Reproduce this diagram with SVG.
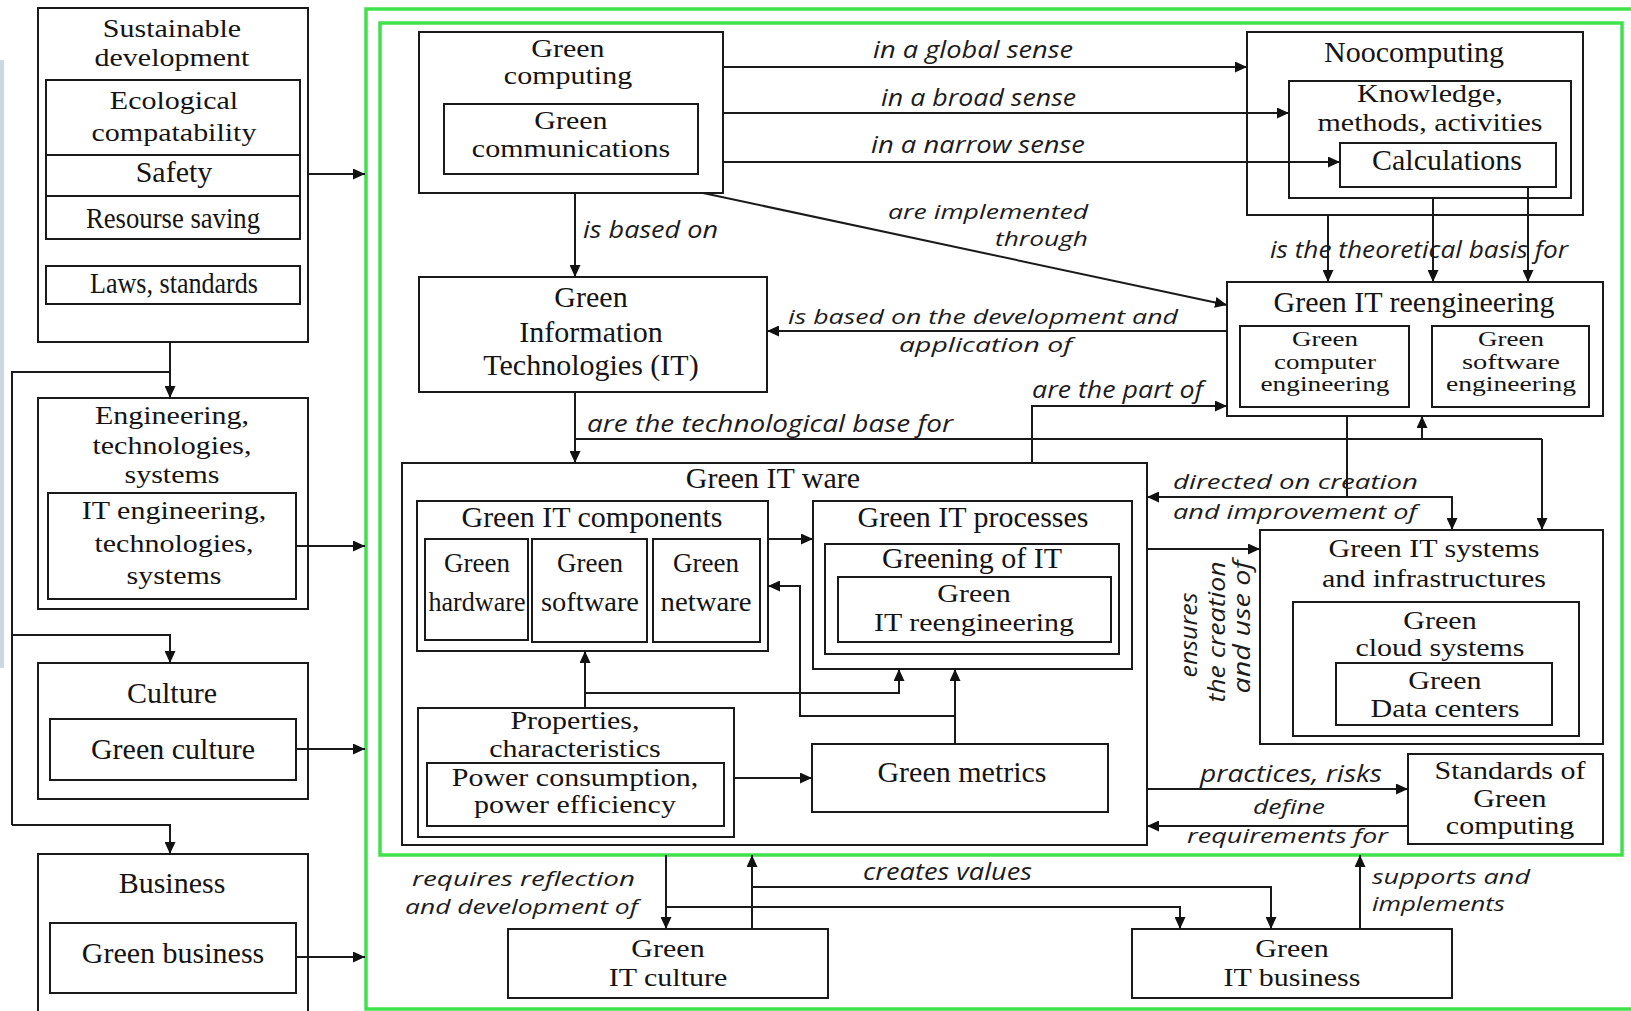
<svg xmlns="http://www.w3.org/2000/svg" width="1631" height="1011" viewBox="0 0 1631 1011">
<style>
  .box { fill: none; stroke: #1a1a1a; stroke-width: 2; }
  .frame { fill: none; stroke: #3fe24a; stroke-width: 3.5; }
  .t { font-family: "Liberation Serif", "Times New Roman", serif; font-size: 30px; fill: #141414; text-anchor: middle; }
  .s { font-size: 27px; }
  .m { transform-box: fill-box; transform-origin: center; transform: scaleY(0.87); }
  .m2 { transform-box: fill-box; transform-origin: center; transform: scaleY(0.8); }
  .l { font-family: "Open Sans", "DejaVu Sans", sans-serif; font-style: italic; font-size: 23px; fill: #1c1c1c; }
  .lq { transform-box: fill-box; transform-origin: center; transform: scaleY(0.85); }
  .c { fill: none; stroke: #1a1a1a; stroke-width: 2; }
  .a { marker-end: url(#arrow); }
</style>
<defs>
  <marker id="arrow" markerUnits="userSpaceOnUse" markerWidth="12" markerHeight="11" refX="12" refY="5.5" orient="auto">
    <path d="M0,0 L12,5.5 L0,11 z" fill="#111"/>
  </marker>
</defs>
<rect x="0" y="0" width="1631" height="1011" fill="#ffffff"/>
<rect x="0" y="60" width="4" height="608" fill="#cbd8e1"/>

<!-- Left column: context domains -->
<g id="sustainable-development">
  <rect class="box" x="38" y="8" width="270" height="334"/>
  <text class="t m" x="172" y="38">Sustainable</text>
  <text class="t m" x="172" y="67">development</text>
</g>
<g id="ecological-compatability">
  <rect class="box" x="46" y="80" width="254" height="75"/>
  <text class="t m" x="174" y="110">Ecological</text>
  <text class="t m" x="174" y="142">compatability</text>
</g>
<g id="safety">
  <rect class="box" x="46" y="155" width="254" height="41"/>
  <text class="t" x="174" y="182">Safety</text>
</g>
<g id="resourse-saving">
  <rect class="box" x="46" y="196" width="254" height="43"/>
  <text class="t" x="173" y="228" textLength="174" lengthAdjust="spacingAndGlyphs">Resourse  saving</text>
</g>
<g id="laws-standards">
  <rect class="box" x="46" y="266" width="254" height="38"/>
  <text class="t" x="174" y="293" textLength="168" lengthAdjust="spacingAndGlyphs">Laws,  standards</text>
</g>
<g id="engineering">
  <rect class="box" x="38" y="398" width="270" height="211"/>
  <text class="t m" x="172" y="425">Engineering,</text>
  <text class="t m" x="172" y="455">technologies,</text>
  <text class="t m" x="172" y="484">systems</text>
</g>
<g id="it-engineering">
  <rect class="box" x="48" y="493" width="248" height="106"/>
  <text class="t m" x="174" y="520">IT engineering,</text>
  <text class="t m" x="174" y="553">technologies,</text>
  <text class="t m" x="174" y="585">systems</text>
</g>
<g id="culture">
  <rect class="box" x="38" y="663" width="270" height="136"/>
  <text class="t" x="172" y="703">Culture</text>
</g>
<g id="green-culture">
  <rect class="box" x="50" y="719" width="246" height="61"/>
  <text class="t" x="173" y="759">Green  culture</text>
</g>
<g id="business">
  <rect class="box" x="38" y="854" width="270" height="170"/>
  <text class="t" x="172" y="893">Business</text>
</g>
<g id="green-business">
  <rect class="box" x="50" y="923" width="246" height="70"/>
  <text class="t" x="173" y="963">Green  business</text>
</g>

<!-- Green computing scope frames -->
<g id="green-frame">
  <rect class="frame" x="366" y="9" width="1300" height="1000"/>
  <rect class="frame" x="380" y="23" width="1242" height="832"/>
</g>

<!-- Central nodes -->
<g id="green-computing">
  <rect class="box" x="419" y="32" width="304" height="161"/>
  <text class="t m" x="568" y="58">Green</text>
  <text class="t m" x="568" y="85">computing</text>
</g>
<g id="green-communications">
  <rect class="box" x="444" y="104" width="254" height="70"/>
  <text class="t m" x="571" y="130">Green</text>
  <text class="t m" x="571" y="158">communications</text>
</g>
<g id="green-it">
  <rect class="box" x="419" y="277" width="348" height="115"/>
  <text class="t" x="591" y="307">Green</text>
  <text class="t" x="591" y="342">Information</text>
  <text class="t" x="591" y="375">Technologies  (IT)</text>
</g>
<g id="noocomputing">
  <rect class="box" x="1247" y="32" width="336" height="183"/>
  <text class="t" x="1414" y="62">Noocomputing</text>
</g>
<g id="knowledge">
  <rect class="box" x="1289" y="81" width="282" height="117"/>
  <text class="t m" x="1430" y="103">Knowledge,</text>
  <text class="t m" x="1430" y="132">methods,  activities</text>
</g>
<g id="calculations">
  <rect class="box" x="1340" y="143" width="216" height="44"/>
  <text class="t" x="1447" y="170">Calculations</text>
</g>
<g id="green-it-reengineering">
  <rect class="box" x="1227" y="282" width="376" height="134"/>
  <text class="t" x="1414" y="312">Green IT reengineering</text>
</g>
<g id="green-computer-engineering">
  <rect class="box" x="1240" y="326" width="169" height="81"/>
  <text class="t s m2" x="1325" y="348">Green</text>
  <text class="t s m2" x="1325" y="370.5">computer</text>
  <text class="t s m2" x="1325" y="393" textLength="129" lengthAdjust="spacingAndGlyphs">engineering</text>
</g>
<g id="green-software-engineering">
  <rect class="box" x="1432" y="326" width="157" height="81"/>
  <text class="t s m2" x="1511" y="348">Green</text>
  <text class="t s m2" x="1511" y="370.5" textLength="98" lengthAdjust="spacingAndGlyphs">software</text>
  <text class="t s m2" x="1511" y="393" textLength="130" lengthAdjust="spacingAndGlyphs">engineering</text>
</g>
<g id="green-it-ware">
  <rect class="box" x="402" y="463" width="745" height="382"/>
  <text class="t" x="773" y="488">Green IT ware</text>
</g>
<g id="green-it-components">
  <rect class="box" x="417" y="501" width="351" height="150"/>
  <text class="t" x="592" y="527">Green IT components</text>
</g>
<g id="green-hardware">
  <rect class="box" x="425" y="539" width="103" height="101"/>
  <text class="t s" x="477" y="572">Green</text>
  <text class="t s" x="477" y="611" textLength="97" lengthAdjust="spacingAndGlyphs">hardware</text>
</g>
<g id="green-software">
  <rect class="box" x="532" y="539" width="115" height="103"/>
  <text class="t s" x="590" y="572">Green</text>
  <text class="t s" x="590" y="611" textLength="98" lengthAdjust="spacingAndGlyphs">software</text>
</g>
<g id="green-netware">
  <rect class="box" x="653" y="539" width="107" height="103"/>
  <text class="t s" x="706" y="572">Green</text>
  <text class="t s" x="706" y="611" textLength="91" lengthAdjust="spacingAndGlyphs">netware</text>
</g>
<g id="green-it-processes">
  <rect class="box" x="813" y="501" width="319" height="168"/>
  <text class="t" x="973" y="527">Green IT processes</text>
</g>
<g id="greening-of-it">
  <rect class="box" x="825" y="544" width="294" height="110"/>
  <text class="t" x="972" y="568">Greening of IT</text>
</g>
<g id="green-it-reengineering-process">
  <rect class="box" x="838" y="577" width="273" height="65"/>
  <text class="t m" x="974" y="603">Green</text>
  <text class="t m" x="974" y="632">IT reengineering</text>
</g>
<g id="properties">
  <rect class="box" x="418" y="708" width="316" height="129"/>
  <text class="t m" x="575" y="730">Properties,</text>
  <text class="t m" x="575" y="758">characteristics</text>
</g>
<g id="power-consumption">
  <rect class="box" x="427" y="763" width="297" height="63"/>
  <text class="t m" x="575" y="787">Power consumption,</text>
  <text class="t m" x="575" y="814">power  efficiency</text>
</g>
<g id="green-metrics">
  <rect class="box" x="812" y="744" width="296" height="68"/>
  <text class="t" x="962" y="782">Green  metrics</text>
</g>
<g id="green-it-systems">
  <rect class="box" x="1260" y="530" width="343" height="214"/>
  <text class="t m" x="1434" y="558">Green IT systems</text>
  <text class="t m" x="1434" y="588">and infrastructures</text>
</g>
<g id="green-cloud-systems">
  <rect class="box" x="1293" y="602" width="286" height="134"/>
  <text class="t m" x="1440" y="630">Green</text>
  <text class="t m" x="1440" y="657">cloud systems</text>
</g>
<g id="green-data-centers">
  <rect class="box" x="1336" y="663" width="216" height="62"/>
  <text class="t m" x="1445" y="690">Green</text>
  <text class="t m" x="1445" y="718">Data centers</text>
</g>
<g id="standards">
  <rect class="box" x="1408" y="754" width="195" height="90"/>
  <text class="t m" x="1510" y="780">Standards of</text>
  <text class="t m" x="1510" y="808">Green</text>
  <text class="t m" x="1510" y="835">computing</text>
</g>
<g id="green-it-culture">
  <rect class="box" x="508" y="929" width="320" height="69"/>
  <text class="t m" x="668" y="958">Green</text>
  <text class="t m" x="668" y="987">IT culture</text>
</g>
<g id="green-it-business">
  <rect class="box" x="1132" y="929" width="320" height="69"/>
  <text class="t m" x="1292" y="958">Green</text>
  <text class="t m" x="1292" y="987">IT business</text>
</g>

<!-- Connectors -->
<g id="connectors">
  <!-- left column feeds -->
  <path class="c a" d="M308,174 H365"/>
  <path class="c a" d="M170,342 V398"/>
  <path class="c" d="M170,372 H12 V825"/>
  <path class="c a" d="M12,635 H170 V663"/>
  <path class="c a" d="M12,825 H170 V854"/>
  <path class="c a" d="M296,546 H365"/>
  <path class="c a" d="M296,749 H365"/>
  <path class="c a" d="M296,957 H365"/>

  <!-- green computing senses -->
  <path class="c a" d="M723,67 H1247"/>
  <path class="c a" d="M723,113 H1289"/>
  <path class="c a" d="M723,162 H1340"/>
  <path class="c a" d="M703,193 L1227,305"/>
  <path class="c a" d="M575,193 V277"/>
  <path class="c a" d="M1227,331 H767"/>

  <!-- theoretical basis -->
  <path class="c a" d="M1328,215 V282"/>
  <path class="c a" d="M1433,198 V282"/>
  <path class="c a" d="M1528,187 V282"/>

  <!-- technological base -->
  <path class="c a" d="M575,392 V463"/>
  <path class="c" d="M575,439 H1542"/>
  <path class="c a" d="M1542,439 V530"/>
  <path class="c a" d="M1422,439 V416"/>
  <path class="c a" d="M1032,463 V406 H1227"/>

  <!-- directed on creation and improvement -->
  <path class="c" d="M1347,416 V497"/>
  <path class="c a" d="M1347,497 H1147"/>
  <path class="c a" d="M1347,497 H1452 V530"/>
  <path class="c a" d="M1147,549 H1260"/>

  <!-- inside Green IT ware -->
  <path class="c a" d="M768,539 H813"/>
  <path class="c a" d="M955,744 V669"/>
  <path class="c a" d="M955,716 H800 V586 H768"/>
  <path class="c a" d="M585,708 V651"/>
  <path class="c a" d="M585,693 H899 V669"/>
  <path class="c a" d="M734,778 H812"/>

  <!-- standards -->
  <path class="c a" d="M1147,789 H1408"/>
  <path class="c a" d="M1408,826 H1147"/>

  <!-- culture and business -->
  <path class="c a" d="M666,855 V929"/>
  <path class="c a" d="M666,907 H1180 V929"/>
  <path class="c a" d="M752,929 V855"/>
  <path class="c a" d="M752,887 H1271 V929"/>
  <path class="c a" d="M1360,929 V855"/>
</g>

<!-- Connector labels -->
<g id="labels">
  <text class="l" x="873" y="58" textLength="200" lengthAdjust="spacingAndGlyphs">in a global sense</text>
  <text class="l" x="881" y="106" textLength="195" lengthAdjust="spacingAndGlyphs">in a broad sense</text>
  <text class="l" x="871" y="153" textLength="214" lengthAdjust="spacingAndGlyphs">in a narrow  sense</text>
  <text class="l lq" x="888" y="220" textLength="200" lengthAdjust="spacingAndGlyphs">are  implemented</text>
  <text class="l lq" x="995" y="247" textLength="93" lengthAdjust="spacingAndGlyphs">through</text>
  <text class="l" x="583" y="238" textLength="135" lengthAdjust="spacingAndGlyphs">is based on</text>
  <text class="l lq" x="788" y="325" textLength="390" lengthAdjust="spacingAndGlyphs">is based on the development and</text>
  <text class="l lq" x="899" y="353" textLength="173" lengthAdjust="spacingAndGlyphs">application of</text>
  <text class="l" x="1032" y="398" textLength="171" lengthAdjust="spacingAndGlyphs">are the part of</text>
  <text class="l" x="587" y="432" textLength="366" lengthAdjust="spacingAndGlyphs">are the technological  base for</text>
  <text class="l" x="1270" y="258" textLength="298" lengthAdjust="spacingAndGlyphs">is the theoretical basis for</text>
  <text class="l lq" x="1173" y="490" textLength="245" lengthAdjust="spacingAndGlyphs">directed  on creation</text>
  <text class="l lq" x="1173" y="520" textLength="244" lengthAdjust="spacingAndGlyphs">and improvement  of</text>
  <text class="l" transform="translate(1197,635) rotate(-90)" x="0" y="0" text-anchor="middle" textLength="85" lengthAdjust="spacingAndGlyphs">ensures</text>
  <text class="l" transform="translate(1225,632) rotate(-90)" x="0" y="0" text-anchor="middle" textLength="141" lengthAdjust="spacingAndGlyphs">the creation</text>
  <text class="l" transform="translate(1250,627) rotate(-90)" x="0" y="0" text-anchor="middle" textLength="133" lengthAdjust="spacingAndGlyphs">and use of</text>
  <text class="l" x="1200" y="782" textLength="182" lengthAdjust="spacingAndGlyphs">practices,  risks</text>
  <text class="l lq" x="1253" y="815" textLength="72" lengthAdjust="spacingAndGlyphs">define</text>
  <text class="l lq" x="1187" y="844" textLength="201" lengthAdjust="spacingAndGlyphs">requirements  for</text>
  <text class="l lq" x="412" y="887" textLength="223" lengthAdjust="spacingAndGlyphs">requires  reflection</text>
  <text class="l lq" x="405" y="915" textLength="233" lengthAdjust="spacingAndGlyphs">and development  of</text>
  <text class="l" x="863" y="880" textLength="169" lengthAdjust="spacingAndGlyphs">creates  values</text>
  <text class="l lq" x="1372" y="885" textLength="158" lengthAdjust="spacingAndGlyphs">supports  and</text>
  <text class="l lq" x="1372" y="912" textLength="133" lengthAdjust="spacingAndGlyphs">implements</text>
</g>
</svg>
